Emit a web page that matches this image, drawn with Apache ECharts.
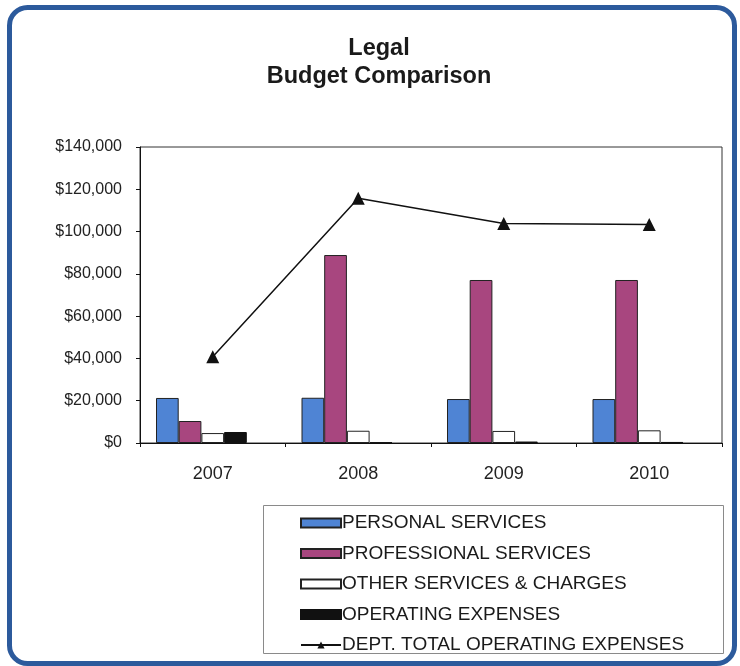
<!DOCTYPE html>
<html>
<head>
<meta charset="utf-8">
<script src="https://cdn.jsdelivr.net/npm/echarts@6/dist/echarts.min.js"></script>
<style>
  html, body { margin: 0; padding: 0; background: #ffffff; }
  #chart { width: 740px; height: 666px; }
</style>
</head>
<body>
<div id="chart"></div>
<script>
// Fiscal years on the category axis
const years = ['2007', '2008', '2009', '2010'];

// Budget lines (dollars)
const personalServices = [21300, 21400, 20800, 20800];
const professionalServices = [10400, 88900, 77100, 77100];
const otherServicesCharges = [4700, 5800, 5700, 6000];
const operatingExpenses = [5200, 300, 700, 500];
const capitalOutlay = [0, 0, 0, 0];
const deptTotal = [40800, 115800, 103800, 103300];

// Value axis ticks
const yMin = 0, yMax = 140000, yStep = 20000;

const FONT = '"Liberation Sans", Arial, sans-serif';
const chart = echarts.init(document.getElementById('chart'), null, { renderer: 'canvas' });

const barBorder = { borderColor: '#222', borderWidth: 1 };

chart.setOption({
  animation: false,
  backgroundColor: '#ffffff',
  title: {
    text: 'Legal\nBudget Comparison',
    left: 374,
    top: 30,
    textAlign: 'center',
    textStyle: { fontFamily: FONT, fontSize: 23.5, fontWeight: 'bold', color: '#1a1a1a', lineHeight: 28 }
  },
  graphic: [
    { type: 'rect', shape: { x: 9.5, y: 7.5, width: 725, height: 656, r: 18 },
      style: { fill: 'none', stroke: '#2c5a9c', lineWidth: 5 }, z: 10 },
    { type: 'rect', shape: { x: 263.5, y: 505.5, width: 460, height: 148 },
      style: { fill: 'none', stroke: '#8a8a8a', lineWidth: 1 }, z: 10 }
  ],
  legend: {
    orient: 'vertical',
    left: 300,
    top: 513,
    padding: 0,
    itemWidth: 40,
    itemHeight: 9,
    itemGap: 10.5,
    textStyle: { fontFamily: FONT, fontSize: 19, color: '#1a1a1a', lineHeight: 20, padding: [0, 0, 0, -4] },
    data: [
      { name: 'PERSONAL SERVICES', icon: 'rect' },
      { name: 'PROFESSIONAL SERVICES', icon: 'rect' },
      { name: 'OTHER SERVICES & CHARGES', icon: 'rect' },
      { name: 'OPERATING EXPENSES', icon: 'rect' },
      { name: 'DEPT. TOTAL OPERATING EXPENSES' }
    ]
  },
  grid: {
    left: 140, right: 18, top: 147, bottom: 223,
    show: true, borderColor: '#333', borderWidth: 1, backgroundColor: 'transparent'
  },
  xAxis: {
    type: 'category',
    data: years,
    boundaryGap: true,
    axisLine: { lineStyle: { color: '#111', width: 1 } },
    axisTick: { show: true, length: 4, lineStyle: { color: '#111' } },
    axisLabel: { fontFamily: FONT, fontSize: 18, color: '#222', margin: 22 },
    splitLine: { show: false }
  },
  yAxis: {
    type: 'value',
    min: yMin, max: yMax, interval: yStep,
    axisLine: { show: true, lineStyle: { color: '#111', width: 1 } },
    axisTick: { show: true, length: 4, lineStyle: { color: '#111' } },
    axisLabel: {
      fontFamily: FONT, fontSize: 16, color: '#222', margin: 18,
      formatter: v => '$' + v.toLocaleString('en-US')
    },
    splitLine: { show: false }
  },
  series: [
    { name: 'PERSONAL SERVICES', type: 'bar', data: personalServices,
      barGap: '0%', barCategoryGap: '22%',
      itemStyle: Object.assign({ color: '#4f84d4' }, barBorder) },
    { name: 'PROFESSIONAL SERVICES', type: 'bar', data: professionalServices,
      itemStyle: Object.assign({ color: '#a8467f' }, barBorder) },
    { name: 'OTHER SERVICES & CHARGES', type: 'bar', data: otherServicesCharges,
      itemStyle: Object.assign({ color: '#ffffff' }, barBorder) },
    { name: 'OPERATING EXPENSES', type: 'bar', data: operatingExpenses,
      itemStyle: { color: '#111', borderColor: '#111', borderWidth: 1 } },
    { name: 'CAPITAL OUTLAY', type: 'bar', data: capitalOutlay,
      itemStyle: { color: '#333', borderColor: '#333', borderWidth: 0 } },
    { name: 'DEPT. TOTAL OPERATING EXPENSES', type: 'line', data: deptTotal,
      symbol: 'triangle', symbolSize: 13,
      lineStyle: { color: '#111', width: 1.5 },
      itemStyle: { color: '#111' }, z: 5 }
  ]
});
</script>
</body>
</html>
